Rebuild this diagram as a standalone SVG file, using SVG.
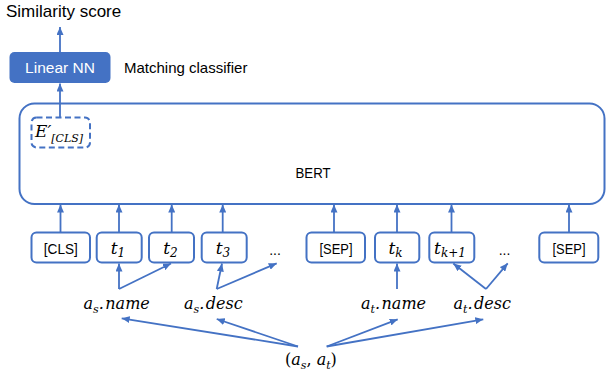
<svg xmlns="http://www.w3.org/2000/svg" width="606" height="375" viewBox="0 0 606 375">
<defs>
<marker id="ah" markerUnits="userSpaceOnUse" markerWidth="8" markerHeight="7" refX="8" refY="3.5" orient="auto">
<path d="M0,0 L8,3.5 L0,7 z" fill="#4472C4"/>
</marker>
<style>
.sans{font-family:"Liberation Sans",Arial,sans-serif;fill:#000}
.math{font-family:"DejaVu Serif","Liberation Serif",serif;font-style:italic;fill:#000}
.tok{fill:#fff;stroke:#4472C4;stroke-width:2}
.conn line{stroke:#4472C4;stroke-width:1.8;marker-end:url(#ah)}
</style>
</defs>
<rect width="606" height="375" fill="#fff"/>

<g id="similarity"><text class="sans" x="6" y="17" font-size="17">Similarity score</text></g>

<g id="linear-nn">
<rect x="9.5" y="52" width="101" height="31" rx="5" fill="#4472C4"/>
<text x="60" y="73" font-size="15.5" text-anchor="middle" font-family="Liberation Sans,Arial,sans-serif" fill="#fff">Linear NN</text>
</g>
<g id="matching-label"><text class="sans" x="124" y="73" font-size="15">Matching classifier</text></g>

<g id="bert">
<rect x="19.5" y="103.5" width="585" height="100.5" rx="15" fill="#fff" stroke="#4472C4" stroke-width="2"/>
<text class="sans" x="313" y="178" font-size="15" text-anchor="middle" textLength="35" lengthAdjust="spacingAndGlyphs">BERT</text>
</g>

<g id="e-cls">
<rect x="31.5" y="117.5" width="58.5" height="30" rx="5" fill="none" stroke="#4472C4" stroke-width="2" stroke-dasharray="6,3.5"/>
<text class="math" x="35" y="137" font-size="17">E′<tspan font-size="11" dy="5">[CLS]</tspan></text>
</g>

<g id="tok-cls"><rect class="tok" x="31.5" y="232.5" width="58.5" height="30" rx="5"/><text class="sans" x="60.8" y="253.5" font-size="15.5" text-anchor="middle" textLength="34" lengthAdjust="spacingAndGlyphs">[CLS]</text></g>
<g id="tok-t1"><rect class="tok" x="96.7" y="232.5" width="45" height="30" rx="5"/><text class="math" x="118" y="254" font-size="17" text-anchor="middle">t<tspan font-size="12" dy="3">1</tspan></text></g>
<g id="tok-t2"><rect class="tok" x="149" y="232.5" width="45" height="30" rx="5"/><text class="math" x="170.5" y="254" font-size="17" text-anchor="middle">t<tspan font-size="12" dy="3">2</tspan></text></g>
<g id="tok-t3"><rect class="tok" x="201.7" y="232.5" width="45" height="30" rx="5"/><text class="math" x="223" y="254" font-size="17" text-anchor="middle">t<tspan font-size="12" dy="3">3</tspan></text></g>
<g id="dots1"><text class="sans" x="275" y="255" font-size="14" text-anchor="middle">...</text></g>
<g id="tok-sep1"><rect class="tok" x="306.5" y="232.5" width="58.5" height="30" rx="5"/><text class="sans" x="336" y="253.5" font-size="15.5" text-anchor="middle" textLength="33" lengthAdjust="spacingAndGlyphs">[SEP]</text></g>
<g id="tok-tk"><rect class="tok" x="375" y="232.5" width="44.3" height="30" rx="5"/><text class="math" x="395.5" y="254" font-size="17" text-anchor="middle">t<tspan font-size="12" dy="3">k</tspan></text></g>
<g id="tok-tk1"><rect class="tok" x="429.3" y="232.5" width="45" height="30" rx="5"/><text class="math" x="450" y="254" font-size="17" text-anchor="middle">t<tspan font-size="12" dy="3">k+1</tspan></text></g>
<g id="dots2"><text class="sans" x="504.5" y="255" font-size="14" text-anchor="middle">...</text></g>
<g id="tok-sep2"><rect class="tok" x="539.3" y="232.5" width="59" height="30" rx="5"/><text class="sans" x="569" y="253.5" font-size="15.5" text-anchor="middle" textLength="33" lengthAdjust="spacingAndGlyphs">[SEP]</text></g>

<g id="as-name"><text class="math" x="83.5" y="309" font-size="16">a<tspan font-size="11" dy="4">s</tspan><tspan dy="-4">.</tspan><tspan dx="1.5">name</tspan></text></g>
<g id="as-desc"><text class="math" x="184" y="309" font-size="16">a<tspan font-size="11" dy="4">s</tspan><tspan dy="-4">.</tspan><tspan dx="1.5">desc</tspan></text></g>
<g id="at-name"><text class="math" x="361" y="309" font-size="16">a<tspan font-size="11" dy="4">t</tspan><tspan dy="-4">.</tspan><tspan dx="1.5">name</tspan></text></g>
<g id="at-desc"><text class="math" x="453.5" y="309" font-size="16">a<tspan font-size="11" dy="4">t</tspan><tspan dy="-4">.</tspan><tspan dx="1.5">desc</tspan></text></g>
<g id="pair"><text class="math" x="285" y="365" font-size="16"><tspan font-style="normal">(</tspan>a<tspan font-size="11" dy="4">s</tspan><tspan dy="-4" font-style="normal">, </tspan>a<tspan font-size="11" dy="4">t</tspan><tspan dy="-4" font-style="normal">)</tspan></text></g>

<g class="conn" id="connectors">
<line x1="60" y1="52" x2="60" y2="27"/>
<line x1="60" y1="117.5" x2="60" y2="83.5"/>
<line x1="60.5" y1="232.5" x2="60.5" y2="204.5"/>
<line x1="119" y1="232.5" x2="119" y2="204.5"/>
<line x1="171.7" y1="232.5" x2="171.7" y2="204.5"/>
<line x1="222.7" y1="232.5" x2="222.7" y2="204.5"/>
<line x1="334" y1="232.5" x2="334" y2="204.5"/>
<line x1="397" y1="232.5" x2="397" y2="204.5"/>
<line x1="451.5" y1="232.5" x2="451.5" y2="204.5"/>
<line x1="569" y1="232.5" x2="569" y2="204.5"/>
<line x1="119" y1="289" x2="119" y2="263.5"/>
<line x1="119" y1="289" x2="171" y2="263.5"/>
<line x1="216.7" y1="289" x2="222" y2="263.5"/>
<line x1="216.7" y1="289" x2="276.7" y2="263.3"/>
<line x1="397" y1="289" x2="397" y2="263.5"/>
<line x1="486" y1="289" x2="453.3" y2="263.5"/>
<line x1="486" y1="289" x2="507.7" y2="263.3"/>
<line x1="298" y1="346.5" x2="121.7" y2="318.3"/>
<line x1="298" y1="346.5" x2="216.7" y2="319"/>
<line x1="326.7" y1="346.5" x2="397.7" y2="319.3"/>
<line x1="326.7" y1="346.5" x2="483.3" y2="319.3"/>
</g>
</svg>
